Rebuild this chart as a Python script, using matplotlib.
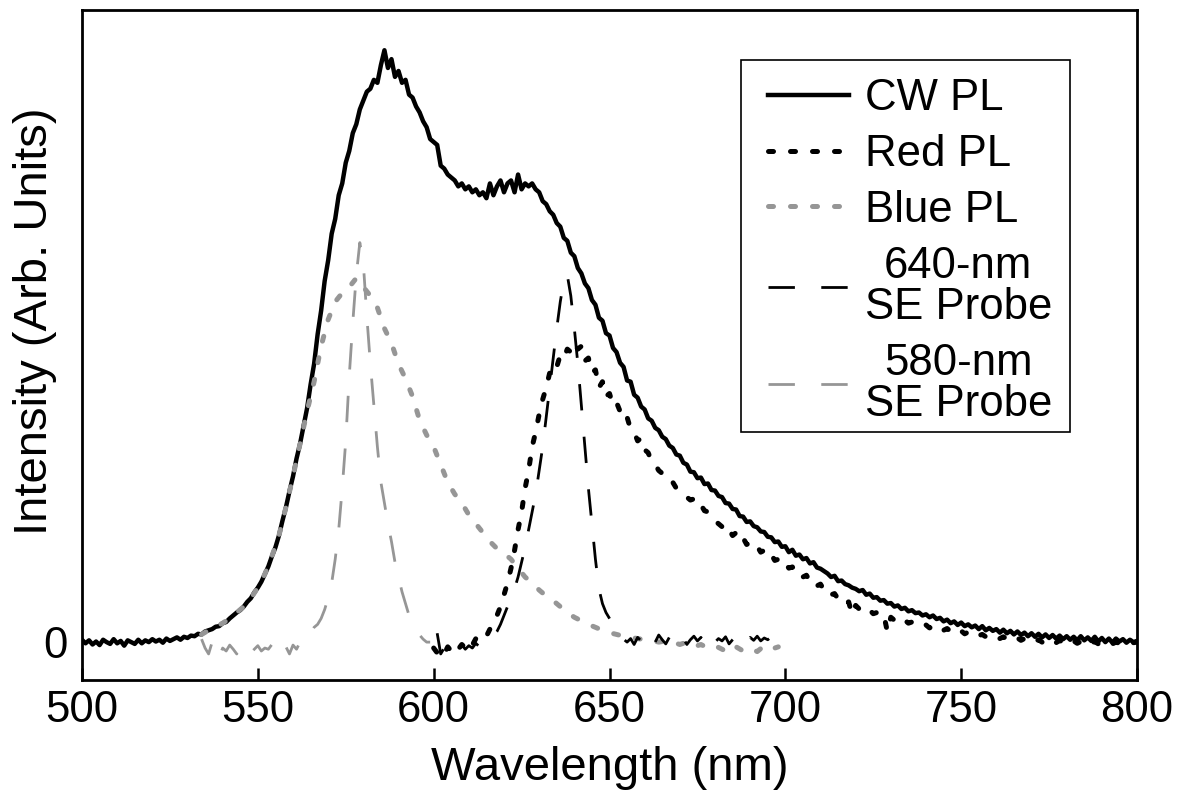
import numpy as np
import matplotlib
matplotlib.use("Agg")
import matplotlib.pyplot as plt
from matplotlib.patches import Rectangle

plt.rcParams['font.family'] = ['Liberation Sans', 'DejaVu Sans']

# ---------------- data ----------------
# CW PL, 1-nm grid 500..800
cw_wl = np.arange(500, 801, 1)
cw_pl = [
    # 500-530
    0.004, -0.002, 0.003, -0.004, 0.001, -0.005, 0.004, 0.000, -0.003, 0.005,
    -0.002, 0.002, -0.006, 0.003, 0.000, -0.003, 0.004, -0.002, 0.003, 0.000,
    0.005, 0.001, 0.004, -0.001, 0.006, 0.002, 0.005, 0.008, 0.004, 0.009,
    0.007,
    # 531-560
    0.011, 0.010, 0.014, 0.013, 0.018, 0.020, 0.022, 0.026, 0.027, 0.032,
    0.034, 0.040, 0.045, 0.050, 0.054, 0.060, 0.068, 0.074, 0.084, 0.092,
    0.102, 0.115, 0.128, 0.145, 0.160, 0.180, 0.205, 0.228, 0.255, 0.280,
    # 561-590
    0.310, 0.335, 0.365, 0.395, 0.435, 0.470, 0.520, 0.560, 0.610, 0.645,
    0.690, 0.715, 0.755, 0.775, 0.810, 0.830, 0.860, 0.875, 0.900, 0.915,
    0.930, 0.935, 0.950, 0.945, 0.975, 1.000, 0.970, 0.985, 0.955, 0.965,
    # 591-620
    0.945, 0.950, 0.925, 0.920, 0.905, 0.895, 0.880, 0.870, 0.850, 0.845,
    0.840, 0.805, 0.800, 0.790, 0.785, 0.780, 0.770, 0.775, 0.765, 0.770,
    0.760, 0.765, 0.755, 0.760, 0.750, 0.775, 0.755, 0.770, 0.780, 0.760,
    # 621-650
    0.775, 0.780, 0.760, 0.790, 0.765, 0.775, 0.770, 0.775, 0.765, 0.760,
    0.745, 0.740, 0.728, 0.722, 0.708, 0.702, 0.683, 0.678, 0.658, 0.652,
    0.632, 0.623, 0.606, 0.598, 0.578, 0.570, 0.548, 0.543, 0.522, 0.518,
    # 651-680
    0.497, 0.490, 0.472, 0.465, 0.442, 0.440, 0.418, 0.413, 0.398, 0.393,
    0.378, 0.374, 0.362, 0.358, 0.347, 0.343, 0.332, 0.328, 0.317, 0.315,
    0.303, 0.300, 0.288, 0.287, 0.277, 0.278, 0.267, 0.268, 0.257, 0.256,
    # 681-710
    0.247, 0.245, 0.235, 0.234, 0.225, 0.224, 0.213, 0.212, 0.203, 0.204,
    0.196, 0.194, 0.187, 0.186, 0.178, 0.177, 0.169, 0.170, 0.161, 0.162,
    0.152, 0.156, 0.146, 0.148, 0.140, 0.142, 0.133, 0.135, 0.126, 0.124,
    # 711-740
    0.120, 0.116, 0.110, 0.112, 0.103, 0.104, 0.098, 0.096, 0.092, 0.090,
    0.086, 0.088, 0.080, 0.082, 0.075, 0.076, 0.070, 0.071, 0.065, 0.066,
    0.060, 0.062, 0.056, 0.058, 0.052, 0.054, 0.049, 0.050, 0.045, 0.047,
    # 741-770
    0.042, 0.045, 0.039, 0.041, 0.035, 0.038, 0.032, 0.035, 0.029, 0.033,
    0.027, 0.030, 0.025, 0.028, 0.022, 0.027, 0.020, 0.024, 0.019, 0.022,
    0.016, 0.021, 0.015, 0.019, 0.013, 0.018, 0.012, 0.016, 0.010, 0.015,
    # 771-800
    0.009, 0.014, 0.008, 0.013, 0.007, 0.012, 0.006, 0.011, 0.005, 0.010,
    0.004, 0.009, 0.003, 0.010, 0.003, 0.008, 0.002, 0.009, 0.001, 0.007,
    0.000, 0.006, -0.001, 0.006, 0.001, 0.005, -0.001, 0.004, 0.000, 0.002,
]

# Red PL, 1-nm grid 600..800
red_wl = np.arange(600, 801, 1)
red_pl = [
    # 600-630
    -0.010, -0.018, -0.012, -0.020, -0.008, -0.015, -0.006, -0.012, -0.004, -0.010,
    0.000, -0.005, 0.006, 0.003, 0.012, 0.010, 0.022, 0.030, 0.045, 0.060,
    0.080, 0.100, 0.125, 0.155, 0.190, 0.220, 0.260, 0.290, 0.330, 0.355,
    0.385,
    # 631-660
    0.410, 0.430, 0.455, 0.470, 0.465, 0.485, 0.480, 0.495, 0.490, 0.505,
    0.495, 0.500, 0.475, 0.480, 0.455, 0.460, 0.430, 0.440, 0.415, 0.420,
    0.400, 0.405, 0.390, 0.375, 0.380, 0.360, 0.355, 0.340, 0.345, 0.325,
    # 661-690
    0.320, 0.305, 0.300, 0.290, 0.285, 0.280, 0.270, 0.270, 0.260, 0.255,
    0.250, 0.245, 0.240, 0.242, 0.230, 0.232, 0.222, 0.220, 0.210, 0.205,
    0.200, 0.195, 0.185, 0.190, 0.180, 0.185, 0.172, 0.176, 0.165, 0.168,
    # 691-720
    0.160, 0.162, 0.152, 0.155, 0.145, 0.148, 0.138, 0.140, 0.130, 0.133,
    0.125, 0.127, 0.118, 0.120, 0.110, 0.113, 0.103, 0.105, 0.095, 0.098,
    0.088, 0.090, 0.080, 0.082, 0.073, 0.075, 0.066, 0.068, 0.047, 0.062,
    # 721-750
    0.056, 0.059, 0.052, 0.054, 0.048, 0.050, 0.044, 0.046, 0.018, 0.042,
    0.037, 0.040, 0.034, 0.037, 0.032, 0.034, 0.029, 0.031, 0.027, 0.029,
    0.024, 0.027, 0.022, 0.025, 0.020, 0.023, 0.018, 0.021, 0.016, 0.019,
    # 751-780
    0.014, 0.017, 0.012, 0.015, 0.011, 0.013, 0.009, 0.012, 0.008, 0.010,
    0.006, 0.009, 0.005, 0.008, 0.004, 0.007, 0.003, 0.006, 0.002, 0.005,
    0.001, 0.004, 0.000, 0.004, 0.000, 0.003, -0.001, 0.003, -0.001, 0.002,
    # 781-800
    -0.002, 0.002, -0.002, 0.001, -0.003, 0.001, -0.002, 0.001, -0.003, 0.000,
    -0.002, 0.001, -0.003, 0.000, -0.002, 0.001, -0.002, 0.000, -0.001, 0.000,
]

# Blue PL, 2-nm grid 534..698
blue_wl = np.arange(534, 699, 2)
blue_pl = [
    0.013, 0.020, 0.026, 0.032, 0.040, 0.050, 0.060, 0.074, 0.092, 0.115,
    0.145, 0.180, 0.228, 0.280, 0.335, 0.390, 0.440, 0.500, 0.545, 0.575,
    0.590, 0.600, 0.615, 0.600, 0.585, 0.565, 0.530, 0.505, 0.470, 0.445,
    0.415, 0.375, 0.350, 0.330, 0.300, 0.270, 0.250, 0.235, 0.215, 0.200,
    0.185, 0.170, 0.158, 0.150, 0.140, 0.125, 0.110, 0.100, 0.088, 0.078,
    0.070, 0.060, 0.050, 0.042, 0.036, 0.030, 0.025, 0.020, 0.016, 0.013,
    0.010, 0.008, 0.006, 0.004, 0.003, 0.000, 0.002, 0.000, -0.004, 0.000,
    -0.008, -0.004, -0.010, -0.006, -0.012, -0.018, -0.008, -0.015, -0.010, -0.016,
    -0.006, -0.012, -0.008,
]

# 640-nm SE probe, 1-nm grid 601..697
p640_wl = np.arange(601, 698, 1)
p640 = [
    0.015, -0.020, -0.010, -0.015, -0.008, -0.018, -0.010, -0.005, -0.012, -0.006,
    -0.010, -0.002, -0.008, 0.000, 0.005, 0.004, 0.010, 0.018, 0.030, 0.045,
    0.060, 0.075, 0.090, 0.110, 0.135, 0.160, 0.190, 0.220, 0.250, 0.290,
    0.330, 0.380, 0.430, 0.480, 0.530, 0.575, 0.610, 0.620, 0.585, 0.530,
    0.470, 0.400, 0.330, 0.260, 0.200, 0.140, 0.090, 0.065, 0.050, 0.040,
    0.030, 0.020, 0.012, 0.005, 0.000, 0.006, -0.004, 0.008, 0.002, 0.010,
    -0.002, 0.006, 0.000, 0.012, 0.004, -0.003, 0.008, 0.002, 0.010, 0.000,
    0.006, -0.004, 0.004, 0.010, 0.002, 0.008, -0.002, 0.005, 0.012, 0.000,
    0.006, 0.002, 0.009, -0.003, 0.004, 0.010, 0.001, 0.006, 0.000, 0.008,
    0.003, 0.010, 0.002, 0.007, 0.004, 0.009, 0.005,
]

# 580-nm SE probe, 1-nm grid 534..599
p580_wl = np.arange(534, 600, 1)
p580 = [
    0.005, -0.010, -0.020, 0.000, -0.005, -0.025, -0.010, -0.015, -0.005, -0.012,
    -0.020, -0.008, -0.015, -0.010, -0.018, -0.012, -0.006, -0.015, -0.010, -0.012,
    -0.004, -0.008, 0.000, -0.015, -0.008, -0.020, -0.005, -0.012, 0.000, 0.008,
    0.005, 0.015, 0.025, 0.030, 0.040, 0.055, 0.075, 0.100, 0.140, 0.190,
    0.260, 0.340, 0.450, 0.540, 0.620, 0.675, 0.640, 0.550, 0.470, 0.400,
    0.330, 0.270, 0.235, 0.200, 0.170, 0.135, 0.110, 0.085, 0.065, 0.045,
    0.035, 0.020, 0.012, 0.005, 0.000, 0.000,
]

series_labels = ["CW PL", "Red PL", "Blue PL", "640-nm\nSE Probe", "580-nm\nSE Probe"]
x_ticks = [500, 550, 600, 650, 700, 750, 800]

# ---------------- figure ----------------
W, H = 1180, 798
fig = plt.figure(figsize=(W / 100, H / 100), dpi=100)
ax = fig.add_axes([82 / W, 1 - 680 / H, (1137 - 82) / W, 670 / H])

black = "#000000"
gray = "#969696"

ax.plot(cw_wl, cw_pl, color=black, lw=3.2, solid_joinstyle='round', label=series_labels[0], zorder=3)
ax.plot(red_wl, red_pl, color=black, lw=3.6, linestyle=(0, (1, 3.4)),
        dash_capstyle='round', label=series_labels[1], zorder=4)
ax.plot(blue_wl, blue_pl, color=gray, lw=3.6, linestyle=(0, (1, 3.4)),
        dash_capstyle='round', label=series_labels[2], zorder=5)
ax.plot(p640_wl, p640, color=black, lw=2.0, linestyle=(0, (9.5, 9.5)),
        label=series_labels[3], zorder=6)
ax.plot(p580_wl, p580, color=gray, lw=2.0, linestyle=(0, (9.5, 9.5)),
        label=series_labels[4], zorder=6)

ax.set_xlim(500, 800)
ax.set_ylim(-0.064, 1.068)
ax.set_xticks(x_ticks)
ax.set_xticklabels([str(t) for t in x_ticks])
ax.set_yticks([0])
ax.set_yticklabels(["0"])

for s in ax.spines.values():
    s.set_linewidth(2.0)
    s.set_color(black)

ax.tick_params(axis='x', direction='in', length=9, width=1.8, labelsize=31.5, pad=7)
ax.tick_params(axis='y', length=0, labelsize=31.5, pad=10)

ax.set_xlabel("Wavelength (nm)", fontsize=34, labelpad=11)
ax.set_ylabel("Intensity (Arb. Units)", fontsize=34)
ax.yaxis.set_label_coords(-0.024, 0.535)

# legend frame (box) drawn separately so that its padding matches the reference
frame = Rectangle((0.6246, 0.3701), 0.9365 - 0.6246, 0.9254 - 0.3701,
                  transform=ax.transAxes, facecolor='white', edgecolor=black,
                  lw=1.2, zorder=7)
ax.add_patch(frame)

leg = ax.legend(loc='upper right', bbox_to_anchor=(0.9194, 0.8985), borderaxespad=0,
                fontsize=31.5, handlelength=1.85, handletextpad=0.365, labelspacing=0.34,
                borderpad=0.0, frameon=False)
leg.set_zorder(8)
for t in leg.get_texts():
    t.set_multialignment('center')
    t.set_linespacing(1.0)

fig.savefig("out.png", dpi=100)
